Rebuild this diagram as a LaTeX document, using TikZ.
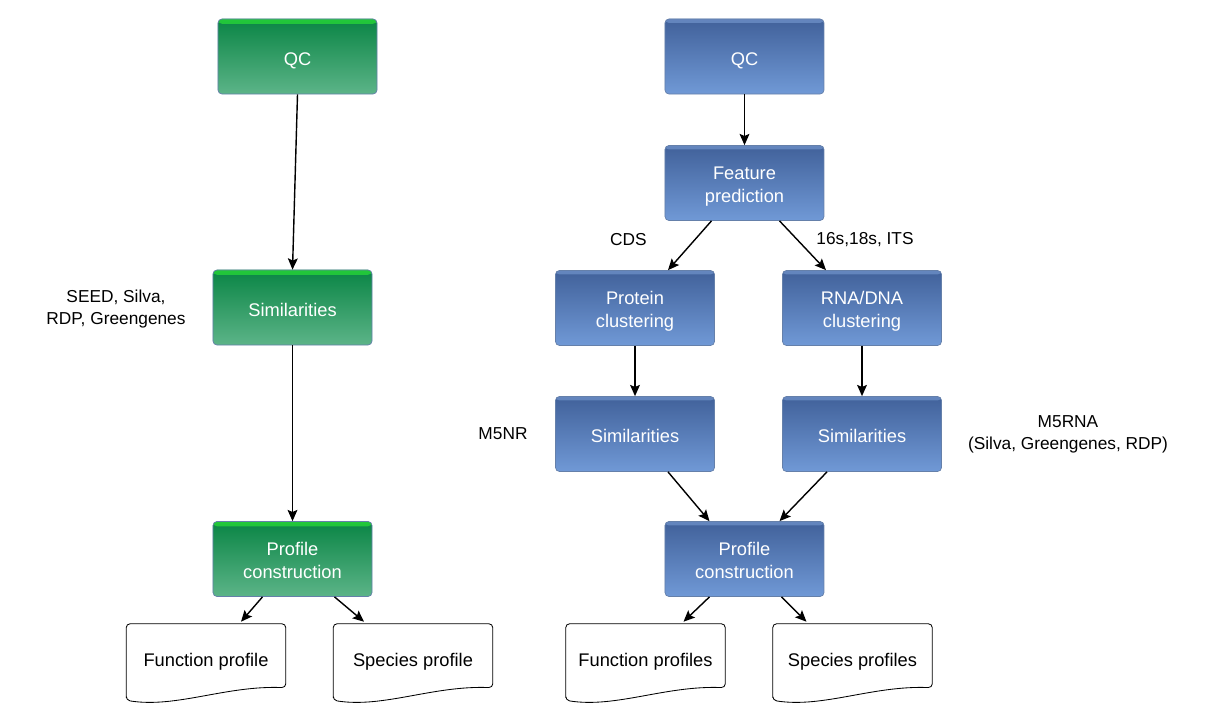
\documentclass[tikz,border=0pt]{standalone}
\usepackage{fontspec}
\setmainfont{Liberation Sans}
\usetikzlibrary{arrows.meta,calc}

\definecolor{gtop}{HTML}{0A8545}
\definecolor{gbot}{HTML}{5CB488}
\definecolor{gstripe}{HTML}{22C83A}
\definecolor{btop}{HTML}{41619A}
\definecolor{bbot}{HTML}{7099D6}
\definecolor{bstripe}{HTML}{6486BE}
\definecolor{boxedge}{HTML}{6580AA}

\tikzset{
  stepfont/.style={font=\fontsize{13}{16.4}\selectfont, align=center},
  flowbox/.style={stepfont, text=white, draw=boxedge, line width=0.5pt,
    rounded corners=0.1cm, minimum width=3.975cm, minimum height=1.875cm, inner sep=0pt,
    text height=12.6pt, text depth=0pt},
  twoline/.style={text height=27.4pt, text depth=0pt},
  greenbox/.style={flowbox, top color=gtop, bottom color=gbot,
    path picture={\shade[top color=gstripe, bottom color=gtop]
      (path picture bounding box.north west) rectangle ([yshift=-0.12cm]path picture bounding box.north east);}},
  bluebox/.style={flowbox, top color=btop, bottom color=bbot,
    path picture={\shade[top color=bstripe, bottom color=btop]
      (path picture bounding box.north west) rectangle ([yshift=-0.1cm]path picture bounding box.north east);}},
  profiledoc/.style={stepfont, minimum width=3.975cm, minimum height=1.9cm, inner sep=0pt},
  docline/.style={draw=black, line width=0.6pt, rounded corners=0.1cm},
  lbl/.style={font=\fontsize{12.3}{15.6}\selectfont, align=center},
  arr/.style={line width=1pt, -{Stealth[length=8pt, width=7pt, inset=1.5pt]}}
}

\begin{document}
\begin{tikzpicture}[x=0.025cm, y=-0.025cm]
  \useasboundingbox (0,0) rectangle (1213,725);

  % left pipeline
  \node[greenbox] (gqc) at (297.5,56.5) {QC};
  \node[greenbox] (gsim) at (292.5,307.5) {Similarities};
  \node[greenbox, twoline] (gprof) at (292.5,559) {Profile\\construction};
  \node[profiledoc] (fdoc) at (206,662) {Function profile};
  \node[profiledoc] (sdoc) at (413,662) {Species profile};
  \node[lbl] (gdb) at (116,309) {SEED, Silva,\\RDP, Greengenes};

  % right pipeline
  \node[bluebox] (bqc) at (744.5,56.5) {QC};
  \node[bluebox, twoline] (feat) at (744.5,183) {Feature\\prediction};
  \node[bluebox, twoline] (prot) at (635,308) {Protein\\clustering};
  \node[bluebox, twoline] (rna) at (862,308) {RNA/DNA\\clustering};
  \node[bluebox] (bsiml) at (635,434) {Similarities};
  \node[bluebox] (bsimr) at (862,434) {Similarities};
  \node[bluebox, twoline] (bprof) at (744.5,559) {Profile\\construction};
  \node[profiledoc] (ffdoc) at (645.5,662) {Function profiles};
  \node[profiledoc] (sfdoc) at (852.5,662) {Species profiles};

  \node[lbl] (cds) at (628.5,240) {CDS};
  \node[lbl] (its) at (865,240) {16s,18s, ITS};
  \node[lbl] (m5nr) at (503,434) {M5NR};
  \node[lbl] (m5rna) at (1068,434) {M5RNA\\(Silva, Greengenes, RDP)};

  % document outlines
  \foreach \d in {fdoc,sdoc,ffdoc,sfdoc}{
    \draw[docline] (\d.south west) -- (\d.north west) -- (\d.north east)
      -- ($(\d.north east)+(0,64)$)
      .. controls ($(\d.south west)+(100,-15)$) and ($(\d.south west)+(50,8)$) .. (\d.south west) -- cycle;
  }

  % connectors
  \draw[arr] (gqc.south) -- (gsim.north);
  \draw[arr] (gsim.south) -- (gprof.north);
  \draw[arr] ($(gprof.south)+(-30,0)$) -- ($(fdoc.north)+(35,-2)$);
  \draw[arr] ($(gprof.south)+(42,0)$) -- ($(sdoc.north)+(-49,-2)$);

  \draw[arr] (bqc.south) -- (feat.north);
  \draw[arr] ($(feat.south)+(-33,0)$) -- ($(prot.north)+(33,0)$);
  \draw[arr] ($(feat.south)+(35,0)$) -- ($(rna.north)+(-36,0)$);
  \draw[arr] (prot.south) -- (bsiml.north);
  \draw[arr] (rna.south) -- (bsimr.north);
  \draw[arr] ($(bsiml.south)+(33,0)$) -- ($(bprof.north)+(-35,0)$);
  \draw[arr] ($(bsimr.south)+(-35,0)$) -- ($(bprof.north)+(35,0)$);
  \draw[arr] ($(bprof.south)+(-35,0)$) -- ($(ffdoc.north)+(38,-2)$);
  \draw[arr] ($(bprof.south)+(37,0)$) -- ($(sfdoc.north)+(-46,-2)$);
\end{tikzpicture}
\end{document}
